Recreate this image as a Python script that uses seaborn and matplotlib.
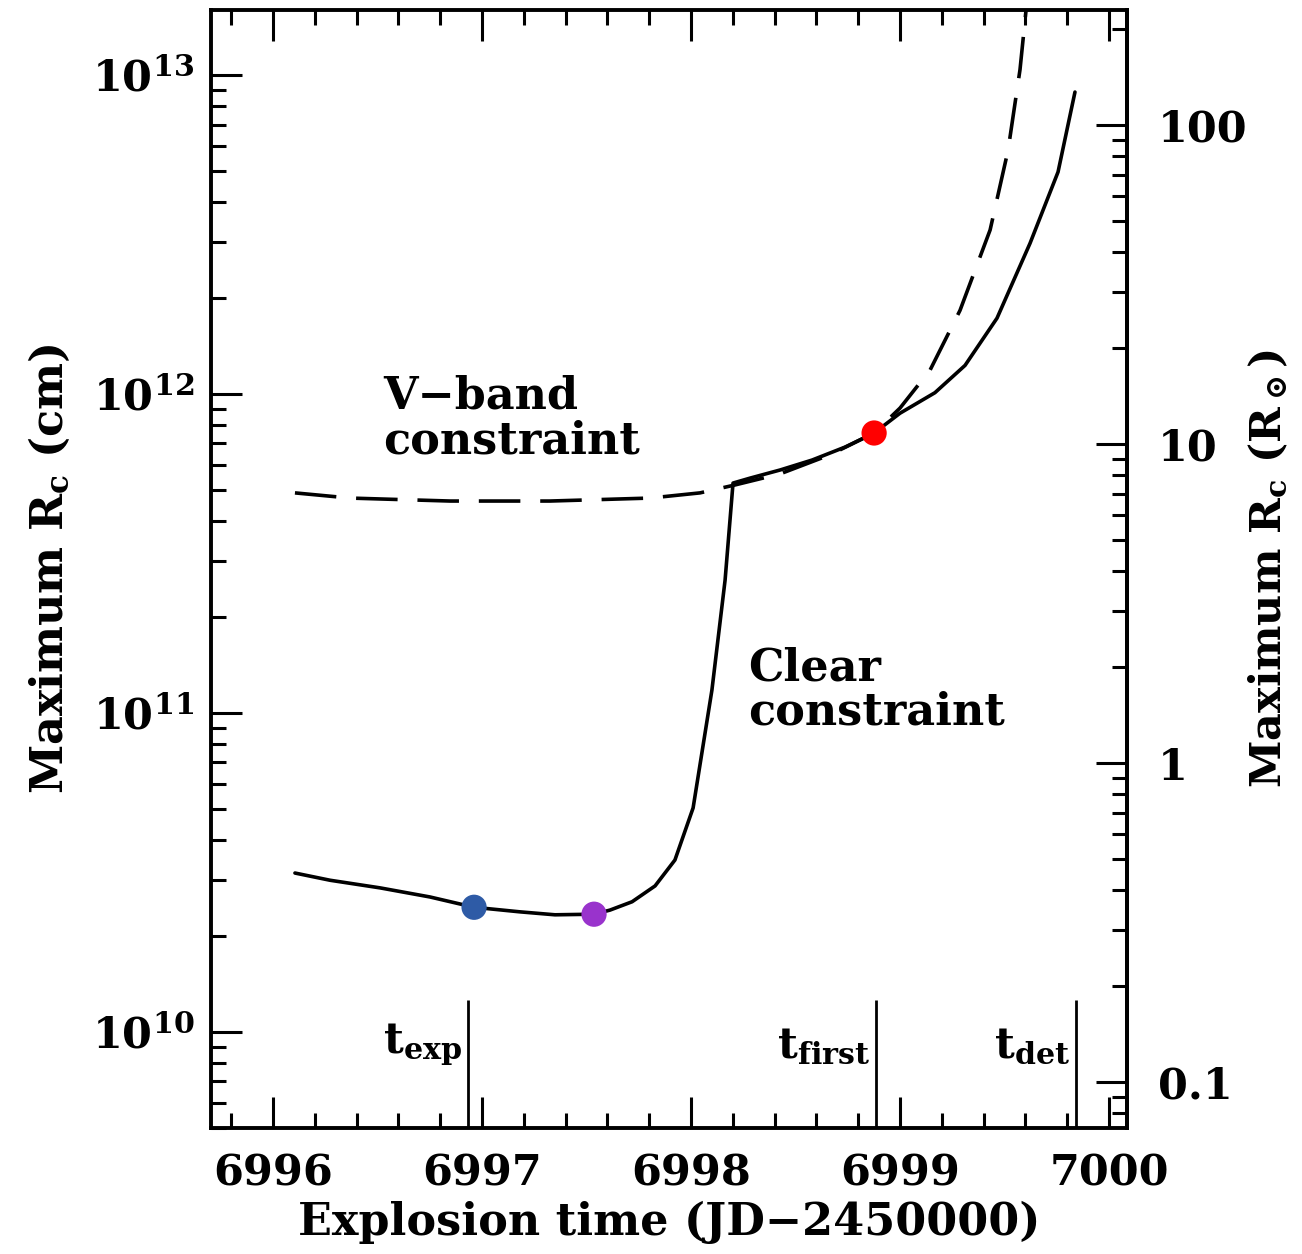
import numpy as np
import pandas as pd
import matplotlib
matplotlib.use("Agg")
import matplotlib.pyplot as plt
import seaborn as sns
from matplotlib.ticker import MultipleLocator, LogLocator, NullFormatter

# ---------------- data ----------------
RSUN = 6.96e10

clear_t = [6996.105, 6996.273, 6996.512, 6996.751, 6996.962, 6997.182, 6997.349,
           6997.536, 6997.612, 6997.718, 6997.828, 6997.923, 6998.010, 6998.100,
           6998.163, 6998.201, 6998.282, 6998.426, 6998.579, 6998.737, 6998.876,
           6999.000, 6999.167, 6999.311, 6999.464, 6999.622, 6999.756, 6999.837]
clear_r = [3.15e10, 2.99e10, 2.83e10, 2.65e10, 2.46e10, 2.38e10, 2.33e10,
           2.34e10, 2.41e10, 2.56e10, 2.87e10, 3.46e10, 5.04e10, 1.18e11,
           2.61e11, 5.26e11, 5.45e11, 5.78e11, 6.21e11, 6.82e11, 7.55e11,
           8.71e11, 1.01e12, 1.23e12, 1.73e12, 2.97e12, 4.97e12, 8.85e12]

vband_t = [6996.105, 6996.368, 6996.847, 6997.325, 6997.804, 6998.043, 6998.211,
           6998.426, 6998.665, 6998.876, 6999.000, 6999.144, 6999.287, 6999.431,
           6999.517, 6999.574, 6999.603]
vband_r = [4.90e11, 4.72e11, 4.62e11, 4.62e11, 4.72e11, 4.90e11, 5.19e11,
           5.62e11, 6.45e11, 7.55e11, 9.04e11, 1.19e12, 1.83e12, 3.27e12,
           5.82e12, 1.04e13, 1.60e13]

point_t = [6996.962, 6997.536, 6998.876]
point_r = [2.46e10, 2.34e10, 7.55e11]
point_names = ["t_exp", "min", "t_first"]
point_colors = ["#2E5BA6", "#9933CC", "#FF0000"]

epoch_t = [6996.933, 6998.885, 6999.842]
epoch_labels = [r"t$_\mathbf{exp}$", r"t$_\mathbf{first}$", r"t$_\mathbf{det}$"]
epoch_top = 1.26e10

xlim = (6995.703, 7000.086)
ylim = (5.0e9, 1.6e13)
left_ticks = [1e10, 1e11, 1e12, 1e13]
left_ticklabels = [r"$\mathbf{10^{10}}$", r"$\mathbf{10^{11}}$",
                   r"$\mathbf{10^{12}}$", r"$\mathbf{10^{13}}$"]
right_ticks = [0.1, 1, 10, 100]
right_ticklabels = ["0.1", "1", "10", "100"]
x_ticks = [6996, 6997, 6998, 6999, 7000]

# ---------------- style ----------------
sns.set_theme(style="ticks")
plt.rcParams["font.family"] = ["DejaVu Serif"]
plt.rcParams["font.weight"] = "bold"
plt.rcParams["mathtext.fontset"] = "dejavuserif"
plt.rcParams["mathtext.default"] = "bf"
for k in ["text.color", "axes.labelcolor", "xtick.color", "ytick.color",
          "axes.edgecolor", "xtick.labelcolor", "ytick.labelcolor"]:
    plt.rcParams[k] = "black"

FS = 31
LW = 2.6

fig = plt.figure(figsize=(13.02, 12.54), dpi=100)
ax = fig.add_axes([0.162, 0.1005, 0.7036, 0.8915])

df_clear = pd.DataFrame({"t": clear_t, "r": clear_r})
df_v = pd.DataFrame({"t": vband_t, "r": vband_r})
df_pts = pd.DataFrame({"t": point_t, "r": point_r, "name": point_names})

sns.lineplot(data=df_v, x="t", y="r", ax=ax, color="black", lw=LW,
             sort=False, estimator=None, linestyle=(0, (11.5, 5.5)))
sns.lineplot(data=df_clear, x="t", y="r", ax=ax, color="black", lw=LW,
             sort=False, estimator=None)
sns.scatterplot(data=df_pts, x="t", y="r", hue="name", palette=point_colors,
                s=330, edgecolor="none", ax=ax, legend=False, zorder=5)

ax.vlines(epoch_t, ylim[0], epoch_top, color="black", lw=2.0)
for t, lab in zip(epoch_t, epoch_labels):
    ax.text(t - 0.03, 9.1e9, lab, ha="right", va="center", fontsize=FS,
            fontweight="bold")

ax.text(6996.526, 8.4e11, "V\u2212band\nconstraint", ha="left", va="center",
        fontsize=FS + 1, fontweight="bold", linespacing=1.05)
ax.text(6998.273, 1.18e11, "Clear\nconstraint", ha="left", va="center",
        fontsize=FS + 1, fontweight="bold", linespacing=1.05)

ax.set_yscale("log")
ax.set_xlim(*xlim)
ax.set_ylim(*ylim)

ax.set_xticks(x_ticks)
ax.set_xticklabels([str(v) for v in x_ticks])
ax.xaxis.set_minor_locator(MultipleLocator(0.2))
ax.set_yticks(left_ticks)
ax.set_yticklabels(left_ticklabels)
ax.yaxis.set_minor_locator(LogLocator(base=10, subs=np.arange(2, 10)))
ax.yaxis.set_minor_formatter(NullFormatter())

ax.tick_params(axis="both", which="major", direction="in", length=22, width=2.2,
               labelsize=FS, color="black")
ax.tick_params(axis="both", which="minor", direction="in", length=11, width=2.2,
               color="black")
ax.tick_params(axis="x", which="both", top=True, pad=18)
ax.tick_params(axis="y", which="both", left=True, right=False, pad=12)

for sp in ax.spines.values():
    sp.set_linewidth(2.8)
    sp.set_color("black")

ax.set_xlabel("Explosion time (JD\u22122450000)", fontsize=FS + 1,
              fontweight="bold", labelpad=4)
ax.set_ylabel(r"Maximum R$_\mathbf{c}$ (cm)", fontsize=FS + 1,
              fontweight="bold", labelpad=14)

sec = ax.secondary_yaxis("right", functions=(lambda y: y / RSUN,
                                             lambda r: r * RSUN))
sec.set_yticks(right_ticks)
sec.set_yticklabels(right_ticklabels)
sec.yaxis.set_minor_locator(LogLocator(base=10, subs=np.arange(2, 10)))
sec.yaxis.set_minor_formatter(NullFormatter())
sec.tick_params(axis="y", which="major", direction="in", length=22, width=2.2,
                labelsize=FS, pad=22, color="black", labelcolor="black")
sec.tick_params(axis="y", which="minor", direction="in", length=11, width=2.2,
                color="black")
sec.spines["right"].set_linewidth(2.8)
sec.spines["right"].set_color("black")
sec.set_ylabel(r"Maximum R$_\mathbf{c}$ (R$_\odot$)", fontsize=FS,
               fontweight="bold", labelpad=0, color="black")

fig.savefig("out.png", dpi=100, facecolor="white")
